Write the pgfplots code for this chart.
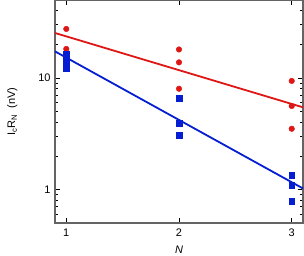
\documentclass[border=0pt]{standalone}
\usepackage{pgfplots}
\pgfplotsset{compat=1.18}
\usepackage{fontspec}
\setmainfont{Liberation Sans}
\definecolor{myred}{RGB}{222,22,22}
\definecolor{myblue}{RGB}{5,30,210}
\definecolor{axgray}{RGB}{100,100,100}
\begin{document}
\begin{tikzpicture}[x=1bp,y=1bp]
\begin{axis}[
  scale only axis,
  width=248bp, height=223bp,
  ymode=log,
  xmin=0.9, xmax=3.1,
  ymin=0.5, ymax=50,
  xtick={1,2,3},
  ytick={1,10},
  yticklabels={1,10},
  log basis y=10,
  minor ytick={0.5,0.6,0.7,0.8,0.9,2,3,4,5,6,7,8,9,20,30,40,50},
  tick align=inside,
  tick pos=both,
  major tick length=5bp,
  minor tick length=3bp,
  axis line style={axgray, line width=1.3bp},
  every tick/.style={black, line width=0.7bp},
  ticklabel style={font=\fontsize{11}{13}\selectfont},
  xticklabel style={yshift=-2bp},
  yticklabel style={xshift=-1bp},
  /pgf/number format/assume math mode=true,
  xlabel={\textit{N}},
  ylabel={I$_{\mathrm{c}}$R$_{\mathrm{N}}$\ \ (nV)},
  label style={font=\fontsize{11}{13}\selectfont},
  xlabel style={yshift=-3bp},
  ylabel style={yshift=14bp},
  clip=false,
]
\addplot[myred, line width=1.8bp] coordinates {(0.9,25.3) (3.1,5.45)};
\addplot[myblue, line width=1.8bp] coordinates {(0.9,17.3) (3.1,1.02)};
\addplot[only marks, mark=*, mark size=2.8bp, myred, mark options={draw=myred, fill=myred}] coordinates {
 (1,27.5) (1,18.2)
 (2,18.0) (2,13.8) (2,8.0)
 (3,9.4) (3,5.6) (3,3.5)
};
\addplot[only marks, mark=square*, mark size=2.8bp, myblue, mark options={draw=myblue, fill=myblue}] coordinates {
 (1,16.3) (1,15.2) (1,14.2) (1,13.2) (1,12.2)
 (2,6.6) (2,3.95) (2,3.05)
 (3,1.35) (3,1.09) (3,0.785)
};
\end{axis}
\pgfresetboundingbox
\path (current axis.south west) ++(-55bp,-33bp) rectangle ([xshift=1bp]current axis.north east);
\end{tikzpicture}
\end{document}
